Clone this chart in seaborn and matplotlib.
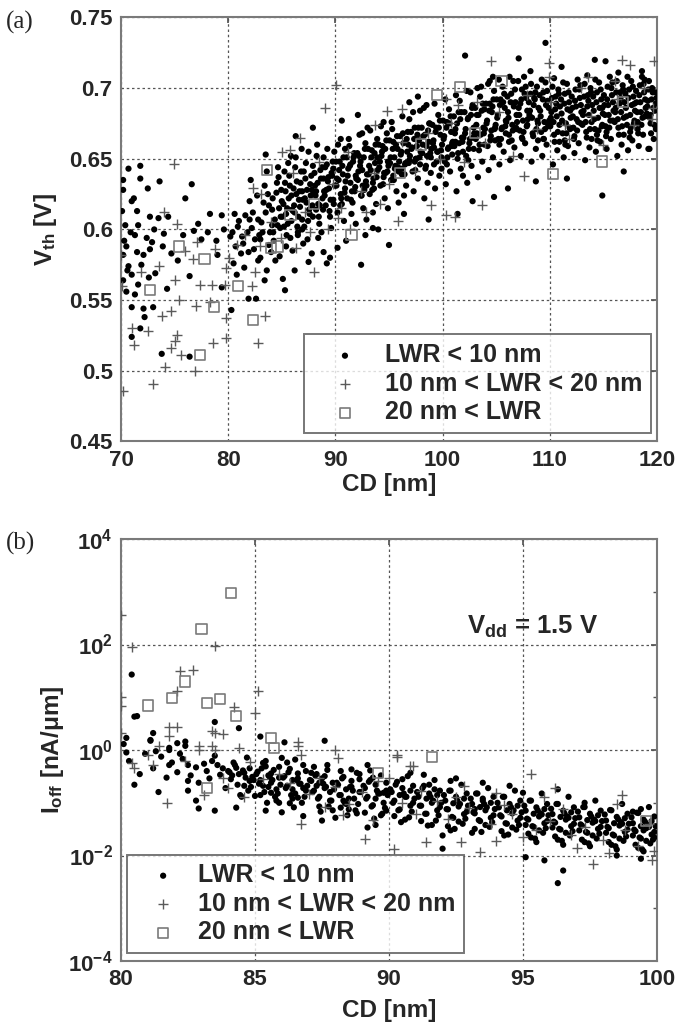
import numpy as np
import pandas as pd
import matplotlib
matplotlib.use("Agg")
import matplotlib.pyplot as plt
import matplotlib.ticker as mticker
import seaborn as sns

# ---- data: (CD [nm], Vth [V]) ----
vth_small = [
    (70.7, 0.643), (71.8, 0.645), (71.8, 0.636), (73.6, 0.634), (72.5, 0.629), (70.2, 0.635), (70.2, 0.628),
    (76.6, 0.632), (76.0, 0.622), (71.2, 0.622), (71.0, 0.620), (71.5, 0.613), (70.1, 0.613), (72.7, 0.609),
    (73.5, 0.608), (74.4, 0.609), (78.3, 0.611), (79.4, 0.610), (70.4, 0.603), (71.6, 0.603), (83.5, 0.653),
    (82.1, 0.635), (83.3, 0.619), (84.1, 0.614), (82.0, 0.607),
    (70.5, 0.588), (70.2, 0.582), (71.5, 0.584), (72.1, 0.582), (72.7, 0.586), (70.7, 0.574), (71.0, 0.568),
    (71.6, 0.561), (73.2, 0.569), (74.3, 0.558), (70.2, 0.564), (70.5, 0.556), (71.3, 0.554), (71.0, 0.545),
    (72.1, 0.544), (73.0, 0.545), (72.2, 0.538), (71.0, 0.524), (71.8, 0.530), (73.8, 0.512), (76.4, 0.510),
    (74.7, 0.583), (76.4, 0.567), (79.4, 0.559), (80.3, 0.543), (81.9, 0.551), (82.6, 0.551), (80.8, 0.568),
    (83.4, 0.564), (85.3, 0.557), (86.2, 0.571), (87.5, 0.577), (89.2, 0.576), (92.4, 0.575), (90.2, 0.587),
    (95.0, 0.589), (84.4, 0.578), (83.6, 0.571),
    (70.9, 0.598), (71.3, 0.596), (72.4, 0.594), (73.1, 0.600), (70.3, 0.592), (72.9, 0.591), (74.0, 0.597),
    (71.9, 0.575), (70.6, 0.571), (72.6, 0.566), (73.9, 0.588),
    (75.8, 0.596), (76.8, 0.599), (77.5, 0.593), (78.1, 0.598), (78.9, 0.592), (79.6, 0.600), (80.2, 0.595),
    (80.9, 0.602), (81.4, 0.590), (81.8, 0.598), (77.2, 0.604), (75.3, 0.578), (79.0, 0.582), (80.5, 0.576),
    (81.2, 0.583), (82.4, 0.586), (83.0, 0.593), (82.8, 0.578), (84.0, 0.584), (84.8, 0.581), (85.4, 0.588),
    (85.1, 0.565), (83.9, 0.598), (84.6, 0.603), (86.0, 0.585), (86.5, 0.596), (87.0, 0.590), (87.8, 0.583),
    (88.4, 0.594), (88.9, 0.584), (89.5, 0.580), (86.9, 0.600),
    (80.4, 0.598), (80.7, 0.588), (81.0, 0.606), (81.3, 0.595), (81.6, 0.610), (81.9, 0.584), (82.2, 0.601),
    (82.5, 0.593), (82.8, 0.607), (83.2, 0.598), (83.5, 0.612), (83.8, 0.589), (84.1, 0.603), (80.6, 0.611),
    (81.5, 0.573), (82.0, 0.620), (83.0, 0.580), (83.7, 0.625),
    (82.3, 0.612), (82.7, 0.624), (83.1, 0.605), (83.4, 0.631), (83.8, 0.617), (84.2, 0.598), (84.5, 0.626),
    (84.9, 0.609), (82.9, 0.596), (83.6, 0.641), (84.7, 0.637), (85.0, 0.620),
    (85.2, 0.602), (85.3, 0.633), (85.5, 0.615), (85.6, 0.647), (85.8, 0.594), (85.9, 0.624), (85.4, 0.611),
    (85.7, 0.638), (85.9, 0.606),
    (86.1, 0.629), (86.2, 0.612), (86.3, 0.651), (86.5, 0.598), (86.6, 0.621), (86.8, 0.641), (86.9, 0.607),
    (86.4, 0.634), (86.7, 0.616), (86.9, 0.627),
    (87.1, 0.602), (87.2, 0.636), (87.3, 0.619), (87.5, 0.655), (87.6, 0.611), (87.8, 0.628), (87.9, 0.645),
    (87.4, 0.593), (87.7, 0.624), (87.9, 0.609),
    (88.1, 0.631), (88.2, 0.614), (88.3, 0.660), (88.5, 0.604), (88.6, 0.642), (88.8, 0.622), (88.9, 0.636),
    (88.4, 0.618), (88.7, 0.598), (88.9, 0.651), (88.2, 0.627),
    (89.1, 0.617), (89.2, 0.646), (89.4, 0.629), (89.5, 0.609), (89.7, 0.638), (89.8, 0.621), (89.9, 0.655),
    (89.3, 0.634), (89.6, 0.601), (89.8, 0.643), (89.0, 0.624),
    (90.1, 0.631), (90.2, 0.612), (90.4, 0.648), (90.5, 0.625), (90.7, 0.639), (90.8, 0.606), (90.9, 0.657),
    (90.3, 0.635), (90.6, 0.618), (90.9, 0.629), (90.5, 0.664),
    (91.1, 0.622), (91.2, 0.643), (91.4, 0.633), (91.5, 0.611), (91.7, 0.651), (91.8, 0.627), (91.9, 0.638),
    (91.3, 0.659), (91.6, 0.619), (91.9, 0.604), (91.4, 0.646),
    (92.1, 0.635), (92.2, 0.652), (92.4, 0.624), (92.5, 0.642), (92.6, 0.615), (92.8, 0.661), (92.9, 0.631),
    (92.3, 0.645), (92.7, 0.628), (92.9, 0.607), (92.5, 0.668),
    (93.1, 0.639), (93.2, 0.625), (93.4, 0.656), (93.5, 0.633), (93.7, 0.647), (93.8, 0.618), (93.9, 0.664),
    (93.3, 0.642), (93.6, 0.629), (93.9, 0.651), (93.5, 0.612),
    (94.1, 0.644), (94.2, 0.631), (94.4, 0.659), (94.5, 0.637), (94.6, 0.622), (94.8, 0.668), (94.9, 0.648),
    (94.3, 0.652), (94.7, 0.640), (94.9, 0.615), (94.5, 0.676),
    (95.1, 0.647), (95.2, 0.635), (95.4, 0.662), (95.5, 0.651), (95.7, 0.627), (95.8, 0.657), (95.9, 0.641),
    (95.3, 0.671), (95.6, 0.645), (95.9, 0.619), (95.4, 0.638),
    (96.1, 0.653), (96.2, 0.639), (96.3, 0.668), (96.5, 0.646), (96.6, 0.631), (96.8, 0.660), (96.9, 0.649),
    (96.4, 0.624), (96.7, 0.655), (96.9, 0.678), (96.2, 0.643),
    (97.1, 0.657), (97.2, 0.641), (97.4, 0.672), (97.5, 0.650), (97.7, 0.636), (97.8, 0.663), (97.9, 0.646),
    (97.3, 0.627), (97.6, 0.659), (97.9, 0.684), (97.4, 0.648),
    (98.1, 0.654), (98.2, 0.666), (98.4, 0.643), (98.5, 0.659), (98.6, 0.633), (98.8, 0.675), (98.9, 0.651),
    (98.3, 0.622), (98.7, 0.662), (98.9, 0.640), (98.5, 0.688),
    (99.1, 0.661), (99.2, 0.646), (99.4, 0.672), (99.5, 0.655), (99.7, 0.638), (99.8, 0.667), (99.9, 0.651),
    (99.3, 0.629), (99.6, 0.681), (99.9, 0.643), (99.2, 0.658),
    (100.1, 0.664), (100.2, 0.648), (100.4, 0.676), (100.5, 0.657), (100.7, 0.641), (100.8, 0.669), (100.9, 0.653),
    (100.3, 0.632), (100.6, 0.685), (100.9, 0.661), (100.4, 0.646),
    (101.1, 0.659), (101.2, 0.671), (101.4, 0.650), (101.5, 0.683), (101.7, 0.643), (101.8, 0.665), (101.9, 0.655),
    (101.3, 0.627), (101.6, 0.691), (101.9, 0.638), (101.2, 0.662),
    (102.1, 0.668), (102.2, 0.652), (102.4, 0.679), (102.5, 0.661), (102.7, 0.645), (102.8, 0.688), (102.9, 0.657),
    (102.3, 0.633), (102.6, 0.697), (102.9, 0.672), (102.4, 0.649),
    (103.1, 0.664), (103.2, 0.681), (103.4, 0.656), (103.5, 0.694), (103.7, 0.648), (103.8, 0.672), (103.9, 0.660),
    (103.3, 0.637), (103.6, 0.701), (103.9, 0.685), (103.2, 0.668),
    (104.1, 0.675), (104.2, 0.659), (104.4, 0.689), (104.5, 0.666), (104.7, 0.651), (104.8, 0.698), (104.9, 0.672),
    (104.3, 0.642), (104.6, 0.683), (104.9, 0.663), (104.4, 0.705),
    (105.1, 0.679), (105.2, 0.664), (105.4, 0.692), (105.5, 0.671), (105.7, 0.655), (105.8, 0.686), (105.9, 0.668),
    (105.3, 0.646), (105.6, 0.701), (105.9, 0.677), (105.3, 0.660),
    (106.1, 0.683), (106.2, 0.667), (106.4, 0.696), (106.5, 0.674), (106.7, 0.658), (106.8, 0.690), (106.9, 0.671),
    (106.3, 0.649), (106.6, 0.705), (106.9, 0.681), (106.2, 0.662),
    (107.1, 0.686), (107.2, 0.670), (107.4, 0.699), (107.5, 0.677), (107.7, 0.661), (107.8, 0.693), (107.9, 0.674),
    (107.3, 0.652), (107.6, 0.708), (107.9, 0.684), (107.4, 0.665),
    (108.1, 0.681), (108.2, 0.696), (108.4, 0.668), (108.5, 0.688), (108.7, 0.657), (108.8, 0.701), (108.9, 0.675),
    (108.3, 0.648), (108.6, 0.692), (108.9, 0.663), (108.2, 0.712),
    (109.1, 0.684), (109.2, 0.669), (109.4, 0.697), (109.5, 0.676), (109.7, 0.660), (109.8, 0.691), (109.9, 0.673),
    (109.3, 0.652), (109.6, 0.704), (109.9, 0.686), (109.4, 0.664),
    (110.1, 0.679), (110.2, 0.693), (110.4, 0.667), (110.5, 0.685), (110.7, 0.656), (110.8, 0.699), (110.9, 0.674),
    (110.3, 0.646), (110.6, 0.689), (110.9, 0.662), (110.4, 0.707),
    (111.1, 0.682), (111.2, 0.668), (111.4, 0.696), (111.5, 0.675), (111.7, 0.659), (111.8, 0.690), (111.9, 0.671),
    (111.3, 0.651), (111.6, 0.703), (111.9, 0.684), (111.4, 0.663),
    (112.1, 0.686), (112.2, 0.672), (112.4, 0.699), (112.5, 0.678), (112.7, 0.661), (112.8, 0.693), (112.9, 0.675),
    (112.3, 0.654), (112.6, 0.706), (112.9, 0.688), (112.3, 0.666),
    (113.1, 0.681), (113.2, 0.694), (113.4, 0.669), (113.5, 0.687), (113.7, 0.658), (113.8, 0.700), (113.9, 0.676),
    (113.3, 0.649), (113.6, 0.691), (113.9, 0.664), (113.5, 0.709),
    (114.1, 0.684), (114.2, 0.671), (114.4, 0.697), (114.5, 0.679), (114.7, 0.662), (114.8, 0.692), (114.9, 0.674),
    (114.3, 0.655), (114.6, 0.704), (114.9, 0.686), (114.4, 0.667),
    (115.1, 0.688), (115.2, 0.673), (115.4, 0.701), (115.5, 0.681), (115.7, 0.664), (115.8, 0.695), (115.9, 0.677),
    (115.3, 0.657), (115.6, 0.708), (115.9, 0.690), (115.3, 0.669),
    (116.1, 0.683), (116.2, 0.697), (116.4, 0.672), (116.5, 0.689), (116.7, 0.660), (116.8, 0.702), (116.9, 0.679),
    (116.3, 0.652), (116.6, 0.693), (116.9, 0.667), (116.4, 0.711),
    (117.1, 0.686), (117.2, 0.674), (117.4, 0.699), (117.5, 0.681), (117.7, 0.663), (117.8, 0.694), (117.9, 0.677),
    (117.3, 0.656), (117.6, 0.705), (117.9, 0.689), (117.5, 0.669),
    (118.1, 0.690), (118.2, 0.676), (118.4, 0.702), (118.5, 0.683), (118.7, 0.667), (118.8, 0.697), (118.9, 0.680),
    (118.3, 0.659), (118.6, 0.708), (118.9, 0.692), (118.2, 0.671),
    (119.1, 0.687), (119.2, 0.699), (119.4, 0.675), (119.5, 0.692), (119.7, 0.664), (119.8, 0.684), (119.9, 0.671),
    (119.3, 0.657), (119.6, 0.697), (119.9, 0.689), (119.4, 0.681),
    (109.6, 0.732), (102.1, 0.723), (107.1, 0.721), (114.2, 0.720), (115.2, 0.719), (118.6, 0.712), (114.9, 0.624),
    (104.7, 0.708), (111.1, 0.715), (119.2, 0.657), (116.9, 0.641), (111.6, 0.636), (108.7, 0.634), (104.8, 0.623),
    (106.1, 0.629), (102.8, 0.620), (101.4, 0.611), (98.7, 0.607), (96.4, 0.611), (94.0, 0.600), (92.8, 0.596),
    (91.0, 0.592), (93.5, 0.601), (86.3, 0.666), (87.9, 0.672), (90.6, 0.677), (92.1, 0.681), (96.9, 0.690),
    (97.7, 0.694), (93.0, 0.672),
    # second pass over the dense band
    (84.15, 0.622), (84.35, 0.607), (84.55, 0.633), (84.75, 0.615), (84.95, 0.628), (84.25, 0.592), (84.65, 0.644),
    (84.85, 0.601),
    (85.15, 0.618), (85.35, 0.627), (85.55, 0.604), (85.75, 0.631), (85.95, 0.614), (85.25, 0.641), (85.45, 0.596),
    (85.65, 0.622), (85.85, 0.652), (85.05, 0.609),
    (86.15, 0.617), (86.35, 0.625), (86.55, 0.609), (86.75, 0.633), (86.95, 0.621), (86.25, 0.644), (86.45, 0.602),
    (86.65, 0.627), (86.85, 0.657), (86.05, 0.613),
    (87.15, 0.622), (87.35, 0.628), (87.55, 0.614), (87.75, 0.638), (87.95, 0.625), (87.25, 0.647), (87.45, 0.606),
    (87.65, 0.632), (87.85, 0.617), (87.05, 0.641),
    (88.15, 0.624), (88.35, 0.633), (88.55, 0.617), (88.75, 0.644), (88.95, 0.627), (88.25, 0.652), (88.45, 0.609),
    (88.65, 0.636), (88.85, 0.614), (88.05, 0.640),
    (89.15, 0.628), (89.35, 0.637), (89.55, 0.621), (89.75, 0.648), (89.95, 0.631), (89.25, 0.657), (89.45, 0.613),
    (89.65, 0.640), (89.85, 0.618), (89.05, 0.644),
    (90.15, 0.636), (90.35, 0.642), (90.55, 0.622), (90.75, 0.651), (90.95, 0.634), (90.25, 0.660), (90.45, 0.617),
    (90.65, 0.645), (90.85, 0.626), (90.05, 0.648),
    (91.15, 0.638), (91.35, 0.645), (91.55, 0.627), (91.75, 0.654), (91.95, 0.636), (91.25, 0.664), (91.45, 0.621),
    (91.65, 0.648), (91.85, 0.630), (91.05, 0.651),
    (92.15, 0.641), (92.35, 0.648), (92.55, 0.631), (92.75, 0.657), (92.95, 0.639), (92.25, 0.667), (92.45, 0.624),
    (92.65, 0.651), (92.85, 0.634), (92.05, 0.654),
    (93.15, 0.645), (93.35, 0.651), (93.55, 0.636), (93.75, 0.660), (93.95, 0.642), (93.25, 0.670), (93.45, 0.628),
    (93.65, 0.654), (93.85, 0.637), (93.05, 0.657),
    (94.15, 0.648), (94.35, 0.655), (94.55, 0.640), (94.75, 0.663), (94.95, 0.645), (94.25, 0.673), (94.45, 0.632),
    (94.65, 0.657), (94.85, 0.641), (94.05, 0.660),
    (95.15, 0.651), (95.35, 0.657), (95.55, 0.643), (95.75, 0.666), (95.95, 0.648), (95.25, 0.676), (95.45, 0.635),
    (95.65, 0.660), (95.85, 0.644), (95.05, 0.663),
    (96.15, 0.655), (96.35, 0.661), (96.55, 0.647), (96.75, 0.669), (96.95, 0.652), (96.25, 0.680), (96.45, 0.639),
    (96.65, 0.664), (96.85, 0.647), (96.05, 0.666),
    (97.15, 0.658), (97.35, 0.664), (97.55, 0.650), (97.75, 0.672), (97.95, 0.655), (97.25, 0.683), (97.45, 0.642),
    (97.65, 0.667), (97.85, 0.651), (97.05, 0.669),
    (98.15, 0.660), (98.35, 0.667), (98.55, 0.652), (98.75, 0.675), (98.95, 0.657), (98.25, 0.686), (98.45, 0.645),
    (98.65, 0.670), (98.85, 0.654), (98.05, 0.672),
    (99.15, 0.663), (99.35, 0.669), (99.55, 0.655), (99.75, 0.677), (99.95, 0.660), (99.25, 0.689), (99.45, 0.648),
    (99.65, 0.672), (99.85, 0.656), (99.05, 0.674),
    (100.15, 0.666), (100.35, 0.672), (100.55, 0.658), (100.75, 0.680), (100.95, 0.662), (100.25, 0.692),
    (100.45, 0.651), (100.65, 0.675), (100.85, 0.659), (100.05, 0.677),
    (101.15, 0.668), (101.35, 0.675), (101.55, 0.661), (101.75, 0.683), (101.95, 0.665), (101.25, 0.695),
    (101.45, 0.654), (101.65, 0.678), (101.85, 0.662), (101.05, 0.680),
    (102.15, 0.671), (102.35, 0.678), (102.55, 0.664), (102.75, 0.686), (102.95, 0.668), (102.25, 0.698),
    (102.45, 0.657), (102.65, 0.681), (102.85, 0.665), (102.05, 0.683),
    (103.15, 0.674), (103.35, 0.681), (103.55, 0.667), (103.75, 0.689), (103.95, 0.671), (103.25, 0.700),
    (103.45, 0.660), (103.65, 0.684), (103.85, 0.668), (103.05, 0.686),
    (104.15, 0.677), (104.35, 0.684), (104.55, 0.670), (104.75, 0.692), (104.95, 0.674), (104.25, 0.703),
    (104.45, 0.663), (104.65, 0.687), (104.85, 0.671), (104.05, 0.689),
    (105.15, 0.681), (105.35, 0.688), (105.55, 0.672), (105.75, 0.696), (105.95, 0.676), (105.25, 0.706),
    (105.45, 0.664), (105.65, 0.690), (105.85, 0.673), (105.05, 0.692),
    (106.15, 0.679), (106.35, 0.690), (106.55, 0.670), (106.75, 0.699), (106.95, 0.676), (106.25, 0.708),
    (106.45, 0.663), (106.65, 0.687), (106.85, 0.672), (106.05, 0.694),
    (107.15, 0.681), (107.35, 0.692), (107.55, 0.669), (107.75, 0.701), (107.95, 0.678), (107.25, 0.689),
    (107.45, 0.664), (107.65, 0.696), (107.85, 0.673), (107.05, 0.705),
    (108.15, 0.684), (108.35, 0.679), (108.55, 0.693), (108.75, 0.671), (108.95, 0.686), (108.25, 0.703),
    (108.45, 0.666), (108.65, 0.697), (108.85, 0.677), (108.05, 0.690),
    (109.15, 0.680), (109.35, 0.692), (109.55, 0.671), (109.75, 0.698), (109.95, 0.677), (109.25, 0.706),
    (109.45, 0.664), (109.65, 0.688), (109.85, 0.674), (109.05, 0.695),
    (110.15, 0.683), (110.35, 0.676), (110.55, 0.694), (110.75, 0.669), (110.95, 0.687), (110.25, 0.701),
    (110.45, 0.662), (110.65, 0.680), (110.85, 0.696), (110.05, 0.673),
    (111.15, 0.677), (111.35, 0.689), (111.55, 0.668), (111.75, 0.697), (111.95, 0.679), (111.25, 0.704),
    (111.45, 0.660), (111.65, 0.685), (111.85, 0.672), (111.05, 0.692),
    (112.15, 0.680), (112.35, 0.691), (112.55, 0.670), (112.75, 0.699), (112.95, 0.683), (112.25, 0.664),
    (112.45, 0.687), (112.65, 0.676), (112.85, 0.702), (112.05, 0.694),
    (113.15, 0.684), (113.35, 0.676), (113.55, 0.695), (113.75, 0.671), (113.95, 0.688), (113.25, 0.703),
    (113.45, 0.665), (113.65, 0.681), (113.85, 0.697), (113.05, 0.674),
    (114.15, 0.678), (114.35, 0.690), (114.55, 0.670), (114.75, 0.699), (114.95, 0.682), (114.25, 0.706),
    (114.45, 0.663), (114.65, 0.686), (114.85, 0.673), (114.05, 0.694),
    (115.15, 0.681), (115.35, 0.692), (115.55, 0.672), (115.75, 0.700), (115.95, 0.684), (115.25, 0.666),
    (115.45, 0.688), (115.65, 0.677), (115.85, 0.704), (115.05, 0.695),
    (116.15, 0.686), (116.35, 0.678), (116.55, 0.697), (116.75, 0.673), (116.95, 0.690), (116.25, 0.705),
    (116.45, 0.667), (116.65, 0.683), (116.85, 0.699), (116.05, 0.676),
    (117.15, 0.680), (117.35, 0.693), (117.55, 0.672), (117.75, 0.701), (117.95, 0.684), (117.25, 0.708),
    (117.45, 0.665), (117.65, 0.688), (117.85, 0.675), (117.05, 0.696),
    (118.15, 0.683), (118.35, 0.695), (118.55, 0.674), (118.75, 0.703), (118.95, 0.686), (118.25, 0.668),
    (118.45, 0.690), (118.65, 0.679), (118.85, 0.706), (118.05, 0.698),
    (119.15, 0.691), (119.35, 0.679), (119.55, 0.700), (119.75, 0.674), (119.95, 0.693), (119.25, 0.705),
    (119.45, 0.668), (119.65, 0.686), (119.85, 0.697), (119.05, 0.682),
]
vth_mid = [
    (74.9, 0.646), (74.0, 0.612), (75.2, 0.604), (89.0, 0.686), (90.1, 0.702), (86.7, 0.665), (93.7, 0.674),
    (85.0, 0.655), (85.8, 0.656), (82.3, 0.629), (83.1, 0.625),
    (70.2, 0.486), (73.0, 0.491), (74.1, 0.503), (76.9, 0.500), (75.6, 0.511), (74.7, 0.516), (75.2, 0.525),
    (75.0, 0.521), (78.6, 0.520), (79.8, 0.523), (82.8, 0.520), (83.4, 0.539), (79.8, 0.537), (71.0, 0.530),
    (72.5, 0.528), (71.2, 0.518), (73.8, 0.539), (74.7, 0.542), (77.0, 0.546), (78.3, 0.549), (75.4, 0.550),
    (75.0, 0.564), (77.4, 0.561), (78.5, 0.561), (79.7, 0.561), (82.2, 0.560), (73.5, 0.574), (77.1, 0.591),
    (78.8, 0.586), (76.7, 0.579), (82.5, 0.570), (88.0, 0.570), (79.8, 0.573), (70.1, 0.560), (71.9, 0.570),
    (70.0, 0.582),
    (104.5, 0.719), (109.9, 0.718), (109.9, 0.708), (116.7, 0.720), (117.5, 0.716), (119.7, 0.719), (94.8, 0.684),
    (96.2, 0.685), (100.3, 0.692), (101.4, 0.688), (98.9, 0.617), (100.3, 0.610), (101.2, 0.609), (103.7, 0.617),
    (107.6, 0.638), (111.4, 0.674), (113.6, 0.708), (116.1, 0.705), (119.6, 0.686),
    (84.0, 0.605), (86.0, 0.640), (87.2, 0.612), (88.5, 0.648), (89.8, 0.632), (90.5, 0.615), (91.2, 0.655),
    (92.4, 0.627), (93.6, 0.640), (95.0, 0.632), (96.2, 0.662), (97.4, 0.641), (98.6, 0.668), (99.8, 0.650),
    (100.8, 0.675), (102.0, 0.648), (103.2, 0.690), (104.0, 0.661), (105.3, 0.683), (106.6, 0.652), (107.9, 0.695),
    (108.8, 0.671), (110.1, 0.690), (111.8, 0.664), (112.9, 0.700), (113.8, 0.680), (115.0, 0.660), (116.3, 0.692),
    (117.9, 0.674), (118.8, 0.700), (119.5, 0.678), (80.8, 0.589), (81.6, 0.596), (83.0, 0.588), (84.9, 0.594),
    (86.3, 0.587), (87.6, 0.598), (89.3, 0.600), (90.2, 0.608), (91.4, 0.600), (92.9, 0.612), (94.2, 0.618),
    (95.8, 0.606), (80.1, 0.580), (76.0, 0.585),
]
vth_large = [
    (83.6, 0.642), (101.6, 0.701), (99.5, 0.695), (110.3, 0.639), (114.9, 0.648), (105.5, 0.705), (91.5, 0.596),
    (75.4, 0.588), (77.8, 0.579), (72.7, 0.557), (80.9, 0.560), (78.7, 0.545), (82.3, 0.536), (77.4, 0.511),
    (84.0, 0.587), (84.6, 0.588), (85.8, 0.610), (88.0, 0.618), (96.0, 0.640), (103.0, 0.668), (116.8, 0.690),
    (98.0, 0.660),
]

# ---- data: (CD [nm], Ioff [nA/um]) ----
ioff_small = [
    (80.4, 27), (80.5, 4.3), (80.6, 4.4), (80.2, 1.7), (81.2, 2.1), (81.1, 1.55), (82.4, 1.45), (82.1, 1.35),
    (83.5, 3.4), (84.4, 2.6), (85.2, 1.8), (86.1, 1.4), (87.6, 1.5), (81.8, 1.1), (80.1, 1.3), (80.2, 0.9),
    (81.4, 0.16), (82.5, 0.26), (82.5, 0.17), (82.8, 0.11), (82.9, 0.078), (83.5, 0.071), (84.3, 0.081),
    (83.6, 0.52), (84.0, 0.40), (83.2, 0.40), (82.5, 0.52), (81.8, 0.52), (81.1, 1.5), (81.8, 1.0), (82.4, 1.2),
    (84.6, 0.37), (84.8, 0.45), (85.0, 0.135), (85.4, 0.49), (85.3, 0.21), (85.6, 0.155), (85.4, 0.071),
    (86.0, 0.066), (85.9, 0.10), (86.4, 0.18), (86.6, 0.125), (86.8, 0.056), (87.1, 0.37), (87.4, 0.24),
    (87.5, 0.046), (87.7, 0.52), (88.0, 0.052), (88.2, 0.081), (88.5, 0.12), (88.6, 0.43), (88.9, 0.35),
    (89.2, 0.52), (89.2, 0.034), (89.5, 0.038), (89.8, 0.155), (89.9, 0.071), (86.5, 0.66), (86.0, 0.71),
    (90.8, 0.37), (91.5, 0.22), (91.7, 0.18), (92.3, 0.26), (93.5, 0.12), (93.2, 0.076), (92.0, 0.024),
    (92.0, 0.0135), (95.0, 0.155), (96.3, 0.18), (95.1, 0.0093), (95.8, 0.0081), (96.5, 0.0052), (96.3, 0.003),
    (97.3, 0.10), (99.4, 0.076), (99.1, 0.068), (98.5, 0.010), (99.4, 0.0087),
    (80.3, 0.62), (80.7, 0.35), (80.9, 0.85), (80.5, 0.22),
    (81.2, 0.45), (81.5, 0.75), (81.7, 0.30), (81.9, 0.58), (81.3, 0.95),
    (82.1, 0.38), (82.3, 0.68), (82.6, 0.33), (82.8, 0.47), (82.2, 0.85), (82.9, 0.24),
    (83.1, 0.55), (83.3, 0.29), (83.5, 0.78), (83.7, 0.34), (83.9, 0.19), (83.4, 0.62), (83.8, 0.45),
    (84.1, 0.28), (84.2, 0.58), (84.4, 0.35), (84.6, 0.21), (84.7, 0.72), (84.9, 0.31), (84.5, 0.13),
    (84.3, 0.46), (84.8, 0.26),
    (85.1, 0.39), (85.2, 0.27), (85.3, 0.57), (85.5, 0.33), (85.6, 0.24), (85.7, 0.42), (85.8, 0.18),
    (85.9, 0.30), (85.2, 0.14), (85.4, 0.62), (85.6, 0.36), (85.8, 0.11), (85.9, 0.48), (85.5, 0.20),
    (86.1, 0.32), (86.2, 0.21), (86.3, 0.44), (86.4, 0.27), (86.5, 0.15), (86.6, 0.36), (86.7, 0.23),
    (86.8, 0.52), (86.9, 0.17), (86.2, 0.58), (86.4, 0.12), (86.6, 0.29), (86.8, 0.19), (86.9, 0.40),
    (86.3, 0.098),
    (87.1, 0.26), (87.2, 0.17), (87.3, 0.35), (87.4, 0.13), (87.5, 0.29), (87.6, 0.19), (87.7, 0.42),
    (87.8, 0.11), (87.9, 0.24), (87.2, 0.48), (87.4, 0.085), (87.6, 0.32), (87.8, 0.16), (87.9, 0.072),
    (87.3, 0.21),
    (88.1, 0.22), (88.2, 0.14), (88.3, 0.31), (88.4, 0.18), (88.5, 0.075), (88.6, 0.26), (88.7, 0.12),
    (88.8, 0.37), (88.9, 0.16), (88.2, 0.40), (88.4, 0.095), (88.6, 0.20), (88.8, 0.063), (88.9, 0.28),
    (88.3, 0.11),
    (89.1, 0.19), (89.2, 0.13), (89.3, 0.27), (89.4, 0.09), (89.5, 0.22), (89.6, 0.15), (89.7, 0.33),
    (89.8, 0.10), (89.9, 0.24), (89.1, 0.065), (89.3, 0.41), (89.5, 0.12), (89.7, 0.058), (89.9, 0.17),
    (89.4, 0.30),
    (90.1, 0.16), (90.2, 0.11), (90.3, 0.25), (90.4, 0.075), (90.5, 0.19), (90.6, 0.13), (90.7, 0.32),
    (90.8, 0.088), (90.9, 0.21), (90.2, 0.056), (90.4, 0.14), (90.6, 0.048), (90.8, 0.17), (90.9, 0.10),
    (90.5, 0.28),
    (91.1, 0.13), (91.2, 0.088), (91.3, 0.21), (91.4, 0.062), (91.5, 0.15), (91.6, 0.10), (91.7, 0.27),
    (91.8, 0.072), (91.9, 0.17), (91.2, 0.045), (91.4, 0.12), (91.6, 0.038), (91.8, 0.14), (91.9, 0.083),
    (91.3, 0.34),
    (92.1, 0.11), (92.2, 0.075), (92.3, 0.17), (92.4, 0.052), (92.5, 0.13), (92.6, 0.085), (92.7, 0.22),
    (92.8, 0.061), (92.9, 0.15), (92.2, 0.036), (92.4, 0.098), (92.6, 0.044), (92.8, 0.12), (92.9, 0.068),
    (92.5, 0.29), (92.3, 0.030),
    (93.1, 0.095), (93.2, 0.063), (93.3, 0.15), (93.4, 0.045), (93.5, 0.11), (93.6, 0.072), (93.7, 0.19),
    (93.8, 0.052), (93.9, 0.13), (93.2, 0.032), (93.4, 0.083), (93.6, 0.038), (93.8, 0.10), (93.9, 0.058),
    (93.5, 0.24), (93.1, 0.027),
    (94.1, 0.082), (94.2, 0.055), (94.3, 0.13), (94.4, 0.040), (94.5, 0.095), (94.6, 0.063), (94.7, 0.17),
    (94.8, 0.046), (94.9, 0.11), (94.2, 0.029), (94.4, 0.072), (94.6, 0.034), (94.8, 0.088), (94.9, 0.052),
    (94.5, 0.21), (94.3, 0.024),
    (95.1, 0.071), (95.2, 0.048), (95.3, 0.11), (95.4, 0.035), (95.5, 0.082), (95.6, 0.055), (95.7, 0.15),
    (95.8, 0.041), (95.9, 0.095), (95.2, 0.026), (95.4, 0.062), (95.6, 0.030), (95.8, 0.076), (95.9, 0.045),
    (95.5, 0.018), (95.3, 0.022), (95.7, 0.060), (95.1, 0.038),
    (96.1, 0.061), (96.2, 0.042), (96.3, 0.095), (96.4, 0.031), (96.5, 0.071), (96.6, 0.048), (96.7, 0.13),
    (96.8, 0.036), (96.9, 0.082), (96.2, 0.023), (96.4, 0.054), (96.6, 0.027), (96.8, 0.066), (96.9, 0.040),
    (96.5, 0.016), (96.3, 0.020), (96.7, 0.052), (96.1, 0.034),
    (97.1, 0.053), (97.2, 0.037), (97.3, 0.083), (97.4, 0.027), (97.5, 0.062), (97.6, 0.042), (97.7, 0.11),
    (97.8, 0.032), (97.9, 0.071), (97.2, 0.020), (97.4, 0.047), (97.6, 0.024), (97.8, 0.058), (97.9, 0.035),
    (97.5, 0.015), (97.3, 0.018), (97.7, 0.045), (97.1, 0.030),
    (98.1, 0.046), (98.2, 0.033), (98.3, 0.072), (98.4, 0.024), (98.5, 0.054), (98.6, 0.037), (98.7, 0.095),
    (98.8, 0.028), (98.9, 0.062), (98.2, 0.018), (98.4, 0.041), (98.6, 0.021), (98.8, 0.051), (98.9, 0.031),
    (98.5, 0.013), (98.3, 0.016), (98.7, 0.040), (98.1, 0.027),
    (99.1, 0.041), (99.2, 0.029), (99.3, 0.064), (99.4, 0.021), (99.5, 0.048), (99.6, 0.033), (99.7, 0.083),
    (99.8, 0.025), (99.9, 0.055), (99.2, 0.016), (99.4, 0.036), (99.6, 0.019), (99.8, 0.045), (99.9, 0.028),
    (99.5, 0.012), (99.3, 0.014), (99.7, 0.035), (99.9, 0.022), (99.1, 0.024), (99.5, 0.030),
    # second pass over the dense band
    (84.15, 0.33), (84.35, 0.22), (84.55, 0.41), (84.75, 0.17), (84.95, 0.27), (84.25, 0.52), (84.45, 0.14),
    (84.65, 0.30), (84.85, 0.20), (84.05, 0.38),
    (85.15, 0.23), (85.35, 0.16), (85.55, 0.31), (85.75, 0.13), (85.95, 0.22), (85.25, 0.45), (85.45, 0.10),
    (85.65, 0.27), (85.85, 0.15), (85.05, 0.35),
    (86.15, 0.19), (86.35, 0.14), (86.55, 0.27), (86.75, 0.10), (86.95, 0.21), (86.25, 0.38), (86.45, 0.082),
    (86.65, 0.23), (86.85, 0.13), (86.05, 0.30),
    (87.15, 0.16), (87.35, 0.12), (87.55, 0.23), (87.75, 0.085), (87.95, 0.18), (87.25, 0.33), (87.45, 0.068),
    (87.65, 0.20), (87.85, 0.11), (87.05, 0.27),
    (88.15, 0.14), (88.35, 0.10), (88.55, 0.20), (88.75, 0.072), (88.95, 0.16), (88.25, 0.29), (88.45, 0.058),
    (88.65, 0.17), (88.85, 0.095), (88.05, 0.24),
    (89.15, 0.12), (89.35, 0.085), (89.55, 0.17), (89.75, 0.062), (89.95, 0.14), (89.25, 0.25), (89.45, 0.050),
    (89.65, 0.15), (89.85, 0.080), (89.05, 0.21),
    (90.15, 0.10), (90.35, 0.072), (90.55, 0.15), (90.75, 0.053), (90.95, 0.12), (90.25, 0.22), (90.45, 0.043),
    (90.65, 0.13), (90.85, 0.068), (90.05, 0.18),
    (91.15, 0.088), (91.35, 0.062), (91.55, 0.13), (91.75, 0.046), (91.95, 0.10), (91.25, 0.19), (91.45, 0.037),
    (91.65, 0.11), (91.85, 0.058), (91.05, 0.16),
    (92.15, 0.076), (92.35, 0.054), (92.55, 0.11), (92.75, 0.040), (92.95, 0.088), (92.25, 0.17), (92.45, 0.032),
    (92.65, 0.095), (92.85, 0.050), (92.05, 0.14),
    (93.15, 0.066), (93.35, 0.047), (93.55, 0.095), (93.75, 0.035), (93.95, 0.076), (93.25, 0.15), (93.45, 0.028),
    (93.65, 0.082), (93.85, 0.043), (93.05, 0.12),
    (94.15, 0.058), (94.35, 0.041), (94.55, 0.083), (94.75, 0.031), (94.95, 0.066), (94.25, 0.13), (94.45, 0.025),
    (94.65, 0.072), (94.85, 0.038), (94.05, 0.10),
    (95.15, 0.050), (95.35, 0.036), (95.55, 0.072), (95.75, 0.027), (95.95, 0.058), (95.25, 0.11), (95.45, 0.021),
    (95.65, 0.063), (95.85, 0.033), (95.05, 0.088),
    (96.15, 0.044), (96.35, 0.032), (96.55, 0.063), (96.75, 0.024), (96.95, 0.051), (96.25, 0.095), (96.45, 0.019),
    (96.65, 0.055), (96.85, 0.029), (96.05, 0.077),
    (97.15, 0.039), (97.35, 0.028), (97.55, 0.055), (97.75, 0.021), (97.95, 0.045), (97.25, 0.083), (97.45, 0.017),
    (97.65, 0.048), (97.85, 0.026), (97.05, 0.068),
    (98.15, 0.035), (98.35, 0.025), (98.55, 0.049), (98.75, 0.019), (98.95, 0.040), (98.25, 0.073), (98.45, 0.015),
    (98.65, 0.043), (98.85, 0.023), (98.05, 0.060),
    (99.15, 0.031), (99.35, 0.022), (99.55, 0.044), (99.75, 0.017), (99.95, 0.036), (99.25, 0.065), (99.45, 0.013),
    (99.65, 0.038), (99.85, 0.020), (99.05, 0.053),
]
ioff_mid = [
    (80.0, 370), (80.4, 90), (83.5, 95), (82.2, 31), (82.7, 33), (80.0, 10), (80.0, 6.7), (82.1, 13),
    (85.1, 13), (85.0, 5.1), (84.2, 6.5), (83.4, 2.3), (83.8, 2.0), (81.8, 2.75), (82.1, 2.75), (80.0, 2.1),
    (81.8, 1.85), (86.6, 1.4), (81.4, 1.2), (82.9, 1.17), (83.4, 1.17), (80.4, 0.58), (83.5, 2.1),
    (84.4, 1.1), (86.6, 1.2), (88.0, 1.0), (90.3, 0.75), (90.9, 0.49),
    (80.5, 0.46), (81.2, 0.52), (81.7, 0.10), (83.1, 0.14), (84.0, 0.19), (84.6, 0.13), (86.7, 0.04),
    (89.1, 0.021), (88.5, 0.093), (82.9, 1.0), (83.5, 1.0), (86.7, 0.81), (88.1, 0.71), (87.4, 0.30),
    (85.9, 0.35), (85.3, 0.28), (86.3, 0.24), (87.0, 0.15), (88.0, 0.20), (89.0, 0.16), (89.6, 0.26),
    (84.8, 0.60), (83.8, 0.30), (82.4, 0.62), (81.0, 0.80),
    (90.3, 0.81), (90.8, 0.49), (95.3, 0.35), (96.2, 0.19), (98.7, 0.14), (92.8, 0.21), (94.0, 0.155),
    (94.0, 0.019), (93.4, 0.0115), (92.7, 0.018), (91.4, 0.018), (90.2, 0.0135), (95.8, 0.126), (97.6, 0.0069),
    (99.8, 0.0081), (98.5, 0.093), (96.5, 0.076),
    (90.5, 0.10), (91.0, 0.06), (91.8, 0.11), (92.2, 0.05), (93.0, 0.08), (93.8, 0.04), (94.6, 0.06),
    (95.5, 0.03), (96.0, 0.045), (96.8, 0.025), (97.3, 0.035), (98.0, 0.02), (98.8, 0.03), (99.3, 0.015),
    (99.7, 0.04), (99.9, 0.012), (97.0, 0.014), (98.2, 0.011), (95.0, 0.022), (94.3, 0.09), (92.5, 0.13),
    (91.2, 0.17), (90.0, 0.30), (89.4, 0.048), (88.3, 0.058), (87.6, 0.085),
]
ioff_large = [
    (84.1, 955), (83.0, 195), (82.4, 20), (81.9, 9.7), (81.0, 7.0), (83.2, 7.7), (83.7, 9.3), (84.3, 4.4),
    (85.6, 1.7), (85.7, 1.1), (89.6, 0.37), (91.6, 0.74), (83.2, 0.19), (99.6, 0.045),
]

legend_labels = ["LWR < 10 nm", "10 nm < LWR < 20 nm", "20 nm < LWR"]
vth_ticks = [0.45, 0.5, 0.55, 0.6, 0.65, 0.7, 0.75]
vth_ticklabels = ["0.45", "0.5", "0.55", "0.6", "0.65", "0.7", "0.75"]
cd_ticks_a = [70, 80, 90, 100, 110, 120]
cd_ticks_b = [80, 85, 90, 95, 100]
ioff_ticks = [1e-4, 1e-2, 1e0, 1e2, 1e4]
ioff_ticklabels = [r"$\mathbf{10^{-4}}$", r"$\mathbf{10^{-2}}$", r"$\mathbf{10^{0}}$",
                   r"$\mathbf{10^{2}}$", r"$\mathbf{10^{4}}$"]

sns.set_theme(style="white")
plt.rcParams["font.family"] = ["Liberation Sans", "DejaVu Sans"]
plt.rcParams["font.weight"] = "bold"
plt.rcParams["mathtext.fontset"] = "custom"
plt.rcParams["mathtext.bf"] = "Liberation Sans:bold"
plt.rcParams["mathtext.rm"] = "Liberation Sans:bold"
plt.rcParams["mathtext.it"] = "Liberation Sans:bold"

FS = 16       # tick labels
FS_LAB = 17.5  # axis labels
FS_LEG = 18
DOT = "black"
PLUS = "#5a5a5a"
SQ = "#7a7a7a"


def frame(df_list, ycol):
    out = []
    for pts, lab in zip(df_list, legend_labels):
        d = pd.DataFrame(pts, columns=["cd", ycol])
        d["group"] = lab
        out.append(d)
    return out


def draw(ax, parts, ycol):
    d0, d1, d2 = parts
    sns.scatterplot(data=d0, x="cd", y=ycol, ax=ax, marker="o", s=20, color=DOT,
                    edgecolor="none", label=legend_labels[0], zorder=3)
    sns.scatterplot(data=d1, x="cd", y=ycol, ax=ax, marker="+", s=42, color=PLUS,
                    linewidth=1.0, label=legend_labels[1], zorder=4)
    sns.scatterplot(data=d2, x="cd", y=ycol, ax=ax, marker="s", s=55, facecolor="none",
                    edgecolor=SQ, linewidth=1.2, label=legend_labels[2], zorder=5)
    ax.collections[-1].set_facecolor("none")
    ax.collections[-1].set_edgecolor(SQ)


def style(ax):
    ax.grid(True, which="major", linestyle=(0, (2, 2.2)), linewidth=0.9, color="#555555")
    ax.set_axisbelow(True)
    for sp in ax.spines.values():
        sp.set_color("#7a7a7a")
        sp.set_linewidth(1.5)
    ax.tick_params(which="both", direction="in", top=True, right=True, length=4,
                   color="#555555", labelsize=FS, pad=6)
    ax.tick_params(which="minor", length=3)
    for lab in ax.get_xticklabels() + ax.get_yticklabels():
        lab.set_fontweight("bold")


def legend(ax, **kw):
    leg = ax.legend(fontsize=FS_LEG, frameon=True, fancybox=False, handletextpad=0.3,
                    borderpad=0.35, labelspacing=0.18, borderaxespad=0, **kw)
    leg.get_frame().set_edgecolor("#555555")
    leg.get_frame().set_linewidth(1.4)
    return leg


fig = plt.figure(figsize=(6.82, 10.25), dpi=100)
ax1 = fig.add_axes([0.1774, 0.5693, 0.7859, 0.4137])
ax2 = fig.add_axes([0.1774, 0.0624, 0.7859, 0.4117])

# panel (a)
draw(ax1, frame([vth_small, vth_mid, vth_large], "vth"), "vth")
ax1.set_xlim(70, 120)
ax1.set_ylim(0.45, 0.75)
ax1.set_xticks(cd_ticks_a)
ax1.set_xticklabels([str(t) for t in cd_ticks_a])
ax1.set_yticks(vth_ticks)
ax1.set_yticklabels(vth_ticklabels)
style(ax1)
ax1.set_xlabel("CD [nm]", fontsize=FS_LAB, fontweight="bold")
ax1.set_ylabel(r"$\mathbf{V_{th}}$ [V]", fontsize=FS_LAB, fontweight="bold")
ax1.xaxis.set_label_coords(0.5, -0.075)
ax1.yaxis.set_label_coords(-0.115, 0.5)
legend(ax1, loc="lower right", bbox_to_anchor=(0.989, 0.02), handlelength=2.6)

# panel (b)
draw(ax2, frame([ioff_small, ioff_mid, ioff_large], "ioff"), "ioff")
ax2.set_yscale("log")
ax2.set_xlim(80, 100)
ax2.set_ylim(1e-4, 1e4)
ax2.set_xticks(cd_ticks_b)
ax2.set_xticklabels([str(t) for t in cd_ticks_b])
ax2.yaxis.set_major_locator(mticker.FixedLocator(ioff_ticks))
ax2.yaxis.set_major_formatter(mticker.FixedFormatter(ioff_ticklabels))
ax2.yaxis.set_minor_locator(mticker.FixedLocator([1e-3, 1e-1, 1e1, 1e3]))
ax2.yaxis.set_minor_formatter(mticker.NullFormatter())
style(ax2)
ax2.set_xlabel("CD [nm]", fontsize=FS_LAB, fontweight="bold")
ax2.set_ylabel(r"$\mathbf{I_{off}}$ [nA/μm]", fontsize=FS_LAB, fontweight="bold")
ax2.xaxis.set_label_coords(0.5, -0.09)
ax2.yaxis.set_label_coords(-0.103, 0.5)
legend(ax2, loc="lower left", bbox_to_anchor=(0.011, 0.019), handlelength=2.2)
ax2.text(0.645, 0.775, r"$\mathbf{V_{dd}}$ = 1.5 V", transform=ax2.transAxes,
         fontsize=18.5, fontweight="bold", ha="left", va="baseline")

fig.text(0.008, 0.9785, "(a)", family="Liberation Serif", fontweight="normal",
         fontsize=18, va="center", ha="left")
fig.text(0.008, 0.470, "(b)", family="Liberation Serif", fontweight="normal",
         fontsize=18, va="center", ha="left")

fig.savefig("out.png", dpi=100)
